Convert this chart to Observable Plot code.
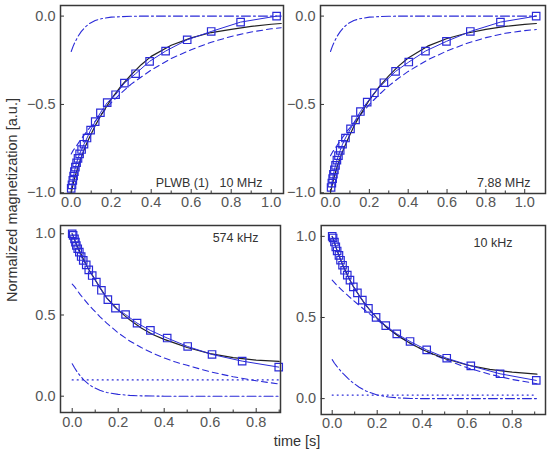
<!DOCTYPE html>
<html><head><meta charset="utf-8">
<script src="https://cdn.jsdelivr.net/npm/d3@7"></script>
<script src="https://cdn.jsdelivr.net/npm/@observablehq/plot@0.6"></script>
<style>
body{margin:0;background:#fff;}
#chart{position:relative;width:550px;height:461px;font-family:"Liberation Sans",Arial,sans-serif;overflow:hidden;}
#chart svg{position:absolute;}
.ylab{position:absolute;left:12px;top:200px;transform:translate(-50%,-50%) rotate(-90deg);white-space:nowrap;font-size:14.5px;color:#333;}
.xlab{position:absolute;left:297px;top:441px;transform:translate(-50%,-50%);white-space:nowrap;font-size:14.5px;color:#333;}
</style></head><body>
<div id="chart"><div class="ylab">Normalized magnetization [a.u.]</div><div class="xlab">time [s]</div></div>
<script>
// ---------- tick labels ----------
const xTicksTop = [0, 0.2, 0.4, 0.6, 0.8, 1.0];
const xMinorTop = [0.1, 0.3, 0.5, 0.7, 0.9];
const xTicksBottom = [0, 0.2, 0.4, 0.6, 0.8];
const xMinorBottom = [0.1, 0.3, 0.5, 0.7, 0.9];
const yTicksTop = [-1.0, -0.5, 0.0];
const yTicksBottom = [0.0, 0.5, 1.0];
const panelLabels = ["PLWB (1)\u00a0\u00a0\u00a010 MHz", "7.88 MHz", "574 kHz", "10 kHz"];

// ---------- top-left (10 MHz) ----------
const tlDataT = [0.0, 0.004, 0.008, 0.012, 0.016, 0.021, 0.027, 0.034, 0.042, 0.052, 0.064, 0.079, 0.097, 0.12, 0.146, 0.18, 0.222, 0.266, 0.322, 0.392, 0.472, 0.58, 0.70, 0.847, 1.027];
const tlDataV = [-0.975, -0.955, -0.93, -0.905, -0.88, -0.855, -0.83, -0.805, -0.78, -0.755, -0.725, -0.69, -0.645, -0.597, -0.547, -0.49, -0.445, -0.379, -0.326, -0.256, -0.198, -0.134, -0.087, -0.034, 0.0];
const tlFitT = [0, 0.01, 0.02, 0.035, 0.05, 0.07, 0.09, 0.12, 0.15, 0.2, 0.25, 0.3, 0.35, 0.4, 0.5, 0.6, 0.7, 0.8, 0.9, 1.0, 1.05];
const tlFit  = [-1.0, -0.95, -0.905, -0.85, -0.8, -0.74, -0.69, -0.62, -0.56, -0.47, -0.395, -0.332, -0.275, -0.228, -0.165, -0.123, -0.093, -0.075, -0.058, -0.046, -0.042];
const tlSlow = [-0.78, -0.76, -0.745, -0.72, -0.695, -0.665, -0.635, -0.595, -0.555, -0.49, -0.435, -0.385, -0.345, -0.305, -0.24, -0.19, -0.148, -0.115, -0.09, -0.072, -0.066];
const tlFast = [-0.2, -0.17, -0.145, -0.113, -0.088, -0.062, -0.043, -0.025, -0.015, -0.006, -0.003, -0.001, 0, 0, 0, 0, 0, 0, 0, 0, 0];

// ---------- top-right (7.88 MHz) ----------
const trDataT = [0.003, 0.007, 0.011, 0.015, 0.02, 0.026, 0.033, 0.041, 0.05, 0.062, 0.077, 0.103, 0.129, 0.154, 0.189, 0.226, 0.275, 0.335, 0.403, 0.489, 0.597, 0.72, 0.875, 1.059];
const trDataV = [-0.97, -0.945, -0.92, -0.895, -0.87, -0.845, -0.815, -0.79, -0.76, -0.725, -0.69, -0.638, -0.587, -0.54, -0.487, -0.434, -0.377, -0.313, -0.26, -0.198, -0.143, -0.087, -0.034, 0.0];
const trFitT = [0, 0.01, 0.02, 0.035, 0.05, 0.07, 0.09, 0.12, 0.15, 0.2, 0.25, 0.3, 0.35, 0.4, 0.5, 0.6, 0.7, 0.8, 0.9, 1.0, 1.06];
const trFit  = [-1.0, -0.95, -0.905, -0.85, -0.8, -0.745, -0.695, -0.625, -0.565, -0.475, -0.4, -0.338, -0.283, -0.237, -0.17, -0.127, -0.097, -0.075, -0.058, -0.047, -0.042];
const trSlow = [-0.79, -0.77, -0.755, -0.73, -0.705, -0.675, -0.645, -0.605, -0.565, -0.5, -0.445, -0.395, -0.352, -0.313, -0.248, -0.197, -0.155, -0.122, -0.097, -0.082, -0.076];
const trFast = [-0.2, -0.17, -0.145, -0.113, -0.088, -0.062, -0.043, -0.025, -0.015, -0.006, -0.003, -0.001, 0, 0, 0, 0, 0, 0, 0, 0, 0];

// ---------- bottom-left (574 kHz) ----------
const blDataT = [0.0, 0.004, 0.01, 0.014, 0.018, 0.024, 0.031, 0.039, 0.048, 0.061, 0.072, 0.087, 0.105, 0.127, 0.155, 0.188, 0.232, 0.282, 0.34, 0.413, 0.502, 0.608, 0.739, 0.898];
const blDataV = [1.0, 0.99, 0.969, 0.949, 0.928, 0.908, 0.887, 0.86, 0.836, 0.809, 0.778, 0.743, 0.703, 0.652, 0.595, 0.542, 0.503, 0.45, 0.405, 0.358, 0.306, 0.257, 0.216, 0.179];
const blFitT = [0, 0.01, 0.02, 0.035, 0.05, 0.07, 0.09, 0.12, 0.15, 0.2, 0.25, 0.3, 0.35, 0.4, 0.45, 0.5, 0.6, 0.7, 0.8, 0.9];
const blFit  = [1.0, 0.965, 0.93, 0.885, 0.84, 0.785, 0.74, 0.67, 0.605, 0.53, 0.47, 0.42, 0.38, 0.35, 0.325, 0.3, 0.262, 0.237, 0.222, 0.214];
const blSlow = [0.69, 0.675, 0.655, 0.625, 0.6, 0.565, 0.535, 0.49, 0.45, 0.39, 0.34, 0.3, 0.265, 0.235, 0.21, 0.19, 0.15, 0.12, 0.095, 0.075];
const blFast = [0.2, 0.175, 0.153, 0.125, 0.1, 0.075, 0.056, 0.036, 0.023, 0.011, 0.005, 0.002, 0.001, 0, 0, 0, 0, 0, 0, 0];
const blConstT = [0, 0.9];
const blConstV = [0.1, 0.1];

// ---------- bottom-right (10 kHz) ----------
const brDataT = [0.0, 0.004, 0.01, 0.016, 0.022, 0.03, 0.037, 0.046, 0.055, 0.067, 0.079, 0.094, 0.112, 0.134, 0.161, 0.195, 0.238, 0.287, 0.346, 0.42, 0.509, 0.616, 0.746, 0.907];
const brDataV = [1.0, 0.99, 0.965, 0.935, 0.91, 0.883, 0.853, 0.822, 0.791, 0.761, 0.73, 0.689, 0.652, 0.607, 0.556, 0.501, 0.45, 0.399, 0.352, 0.3, 0.249, 0.202, 0.153, 0.112];
const brFitT = [0, 0.01, 0.02, 0.035, 0.05, 0.07, 0.09, 0.12, 0.15, 0.2, 0.25, 0.3, 0.35, 0.4, 0.45, 0.5, 0.6, 0.7, 0.8, 0.91];
const brFit  = [1.0, 0.96, 0.92, 0.865, 0.815, 0.755, 0.7, 0.635, 0.575, 0.495, 0.43, 0.38, 0.338, 0.303, 0.273, 0.247, 0.207, 0.18, 0.163, 0.151];
const brSlow = [0.73, 0.715, 0.7, 0.68, 0.66, 0.635, 0.61, 0.575, 0.54, 0.485, 0.43, 0.38, 0.34, 0.303, 0.27, 0.242, 0.19, 0.15, 0.118, 0.092];
const brFast = [0.24, 0.218, 0.2, 0.175, 0.152, 0.125, 0.1, 0.07, 0.047, 0.022, 0.01, 0.004, 0.001, 0, 0, 0, 0, 0, 0, 0];
const brConstT = [0, 0.91];
const brConstV = [0.022, 0.022];

// ---------- drawing ----------
const blue = "#2a2ad8";
const fmt = d => (d < 0 ? "\u2212" : "") + Math.abs(d).toFixed(1);
const rows = (ts, vs) => ts.map((t, i) => ({t, v: vs[i]}));

function panel(c) {
  const iw = c.width - c.ml - c.mr, ih = c.height - c.mt - c.mb;
  const marks = [
    Plot.line(rows(c.fitT, c.slow), {x: "t", y: "v", stroke: blue, strokeWidth: 1.1, strokeDasharray: "6,4"}),
    Plot.line(rows(c.fitT, c.fast), {x: "t", y: "v", stroke: blue, strokeWidth: 1.1, strokeDasharray: "9,3,2,3"})
  ];
  if (c.constT) marks.push(Plot.line(rows(c.constT, c.constV), {x: "t", y: "v", stroke: blue, strokeWidth: 1.2, strokeDasharray: "1,4"}));
  marks.push(
    Plot.line(rows(c.fitT, c.fit), {x: "t", y: "v", stroke: "#222", strokeWidth: 1.2}),
    Plot.line(rows(c.dataT, c.dataV), {x: "t", y: "v", stroke: blue, strokeWidth: 1}),
    Plot.dot(rows(c.dataT, c.dataV), {x: "t", y: "v", symbol: "square", r: 4.2, stroke: blue, fill: "none", strokeWidth: 1.2}),
    Plot.tickX(c.xMajor, {x: d => d, insetTop: ih - 4, stroke: "#333"}),
    Plot.tickX(c.xMinor, {x: d => d, insetTop: ih - 2.5, stroke: "#333"}),
    Plot.tickY(c.yMajor, {y: d => d, insetRight: iw - 4, stroke: "#333"}),
    Plot.axisX({ticks: c.xMajor, tickSize: 0, tickPadding: c.xPad, tickFormat: fmt, label: null, fill: "#555", fontSize: 14.5}),
    Plot.axisY({ticks: c.yMajor, tickSize: 0, tickPadding: 5, tickFormat: fmt, label: null, fill: "#555", fontSize: 14.5}),
    Plot.frame({stroke: "#383838", strokeWidth: 1.5}),
    Plot.text([c.label], {text: d => d, frameAnchor: c.anchor, dx: c.ldx, dy: c.ldy, textAnchor: "end", lineAnchor: "middle", fontSize: 12.5, fill: "#333"})
  );
  const svg = Plot.plot({
    width: c.width, height: c.height,
    marginLeft: c.ml, marginRight: c.mr, marginTop: c.mt, marginBottom: c.mb,
    x: {domain: c.xd}, y: {domain: c.yd},
    style: {fontFamily: '"Liberation Sans", Arial, sans-serif', fontSize: "14px", background: "transparent", overflow: "visible"},
    marks
  });
  svg.style.left = c.left + "px";
  svg.style.top = c.top + "px";
  return svg;
}

const chart = document.getElementById("chart");
chart.appendChild(panel({left: 0, top: 0, width: 290, height: 218, ml: 60, mr: 7, mt: 5, mb: 25,
  xd: [-0.0535, 1.0615], yd: [-1.004, 0.06], xMajor: xTicksTop, xMinor: xMinorTop, yMajor: yTicksTop, xPad: 3,
  dataT: tlDataT, dataV: tlDataV, fitT: tlFitT, fit: tlFit, slow: tlSlow, fast: tlFast,
  label: panelLabels[0], anchor: "bottom-right", ldx: -21, ldy: -11}));
chart.appendChild(panel({left: 270, top: 0, width: 280, height: 218, ml: 50, mr: 5, mt: 5, mb: 25,
  xd: [-0.0515, 1.107], yd: [-1.004, 0.06], xMajor: xTicksTop, xMinor: xMinorTop, yMajor: yTicksTop, xPad: 3,
  dataT: trDataT, dataV: trDataV, fitT: trFitT, fit: trFit, slow: trSlow, fast: trFast,
  label: panelLabels[1], anchor: "bottom-right", ldx: -15, ldy: -11}));
chart.appendChild(panel({left: 0, top: 218, width: 290, height: 215, ml: 60, mr: 10, mt: 7, mb: 21,
  xd: [-0.0509, 0.9057], yd: [-0.1004, 1.051], xMajor: xTicksBottom, xMinor: xMinorBottom, yMajor: yTicksBottom, xPad: 4,
  dataT: blDataT, dataV: blDataV, fitT: blFitT, fit: blFit, slow: blSlow, fast: blFast, constT: blConstT, constV: blConstV,
  label: panelLabels[2], anchor: "top-right", ldx: -22, ldy: 12}));
chart.appendChild(panel({left: 270, top: 218, width: 280, height: 215, ml: 50.7, mr: 5, mt: 7, mb: 19,
  xd: [-0.0489, 0.948], yd: [-0.098, 1.067], xMajor: xTicksBottom, xMinor: xMinorBottom, yMajor: yTicksBottom, xPad: 3,
  dataT: brDataT, dataV: brDataV, fitT: brFitT, fit: brFit, slow: brSlow, fast: brFast, constT: brConstT, constV: brConstV,
  label: panelLabels[3], anchor: "top-right", ldx: -33, ldy: 17}));
</script>
</body></html>
